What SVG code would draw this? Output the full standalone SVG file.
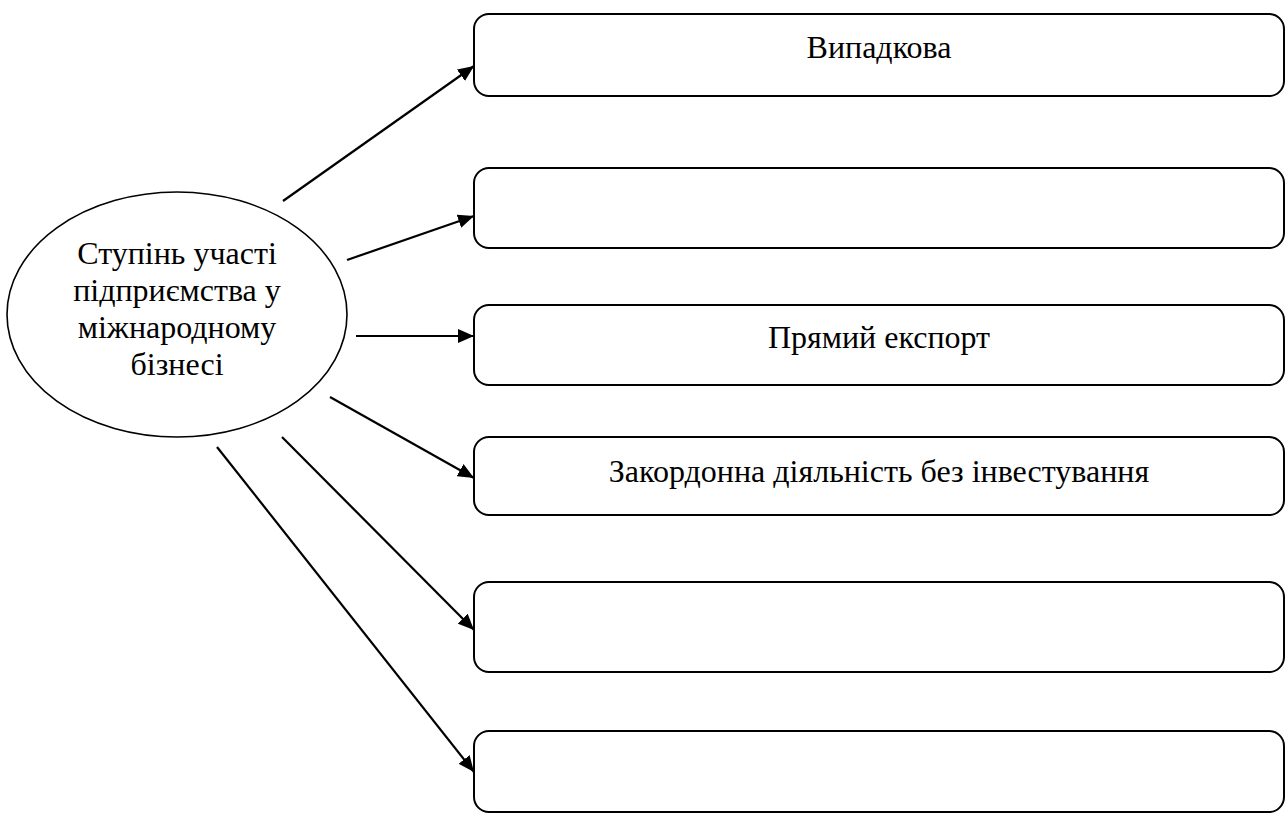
<svg xmlns="http://www.w3.org/2000/svg" width="1287" height="814" viewBox="0 0 1287 814">
<style>
.box{fill:#fff;stroke:#000;stroke-width:2}
.ell{fill:#fff;stroke:#000;stroke-width:1.6}
.t{font-family:"Liberation Serif","Times New Roman",serif;font-size:32px;fill:#000;text-anchor:middle}
.c{stroke:#000;stroke-width:2.2;fill:none;marker-end:url(#ah)}
</style>
<defs>
<marker id="ah" markerUnits="userSpaceOnUse" markerWidth="16" markerHeight="14" refX="16" refY="7" orient="auto">
<path d="M0,0 L16,7 L0,14 z" fill="#000"/>
</marker>
</defs>
<rect width="1287" height="814" fill="#fff"/>
<g id="center">
<ellipse class="ell" cx="177" cy="314.5" rx="170" ry="122.5"/>
<text class="t" x="177" y="264">Ступінь участі</text>
<text class="t" x="177" y="301">підприємства у</text>
<text class="t" x="177" y="338">міжнародному</text>
<text class="t" x="177" y="375">бізнесі</text>
</g>
<g id="box1"><rect class="box" x="474" y="14" width="810" height="82" rx="15"/><text class="t" x="879" y="58">Випадкова</text></g>
<g id="box2"><rect class="box" x="474" y="168" width="810" height="80" rx="15"/></g>
<g id="box3"><rect class="box" x="474" y="305" width="810" height="80" rx="15"/><text class="t" x="879" y="348">Прямий експорт</text></g>
<g id="box4"><rect class="box" x="474" y="437" width="810" height="78" rx="15"/><text class="t" x="879" y="482">Закордонна діяльність без інвестування</text></g>
<g id="box5"><rect class="box" x="474" y="582" width="810" height="90" rx="15"/></g>
<g id="box6"><rect class="box" x="474" y="731" width="810" height="81" rx="15"/></g>
<g id="connectors">
<line class="c" x1="283" y1="201" x2="474" y2="66"/>
<line class="c" x1="347" y1="260" x2="474" y2="216"/>
<line class="c" x1="356" y1="336" x2="474" y2="336"/>
<line class="c" x1="330" y1="397" x2="474" y2="478"/>
<line class="c" x1="282" y1="437" x2="474" y2="630"/>
<line class="c" x1="217" y1="447" x2="474" y2="772"/>
</g>
</svg>
